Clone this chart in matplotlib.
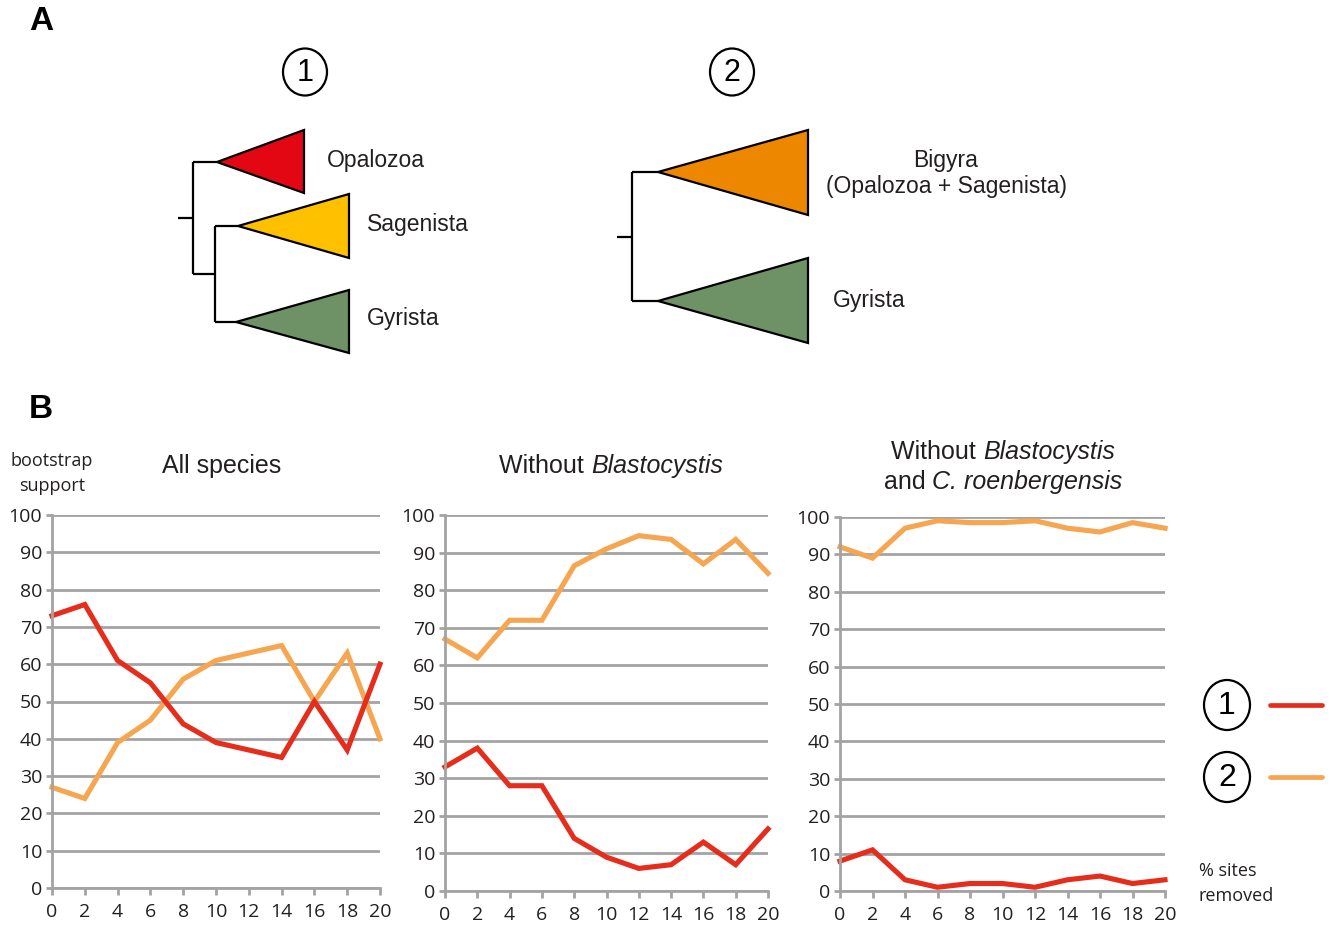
import matplotlib
matplotlib.use("Agg")
import matplotlib.pyplot as plt
from matplotlib.patches import Polygon, Ellipse
from matplotlib.lines import Line2D

# ---- data: bootstrap support vs. % sites removed ----
sites_removed = [0, 2, 4, 6, 8, 10, 12, 14, 16, 18, 20]

all_topo1 = [73, 76, 61, 55, 44, 39, 37, 35, 50, 37, 60]
all_topo2 = [27, 24, 39, 45, 56, 61, 63, 65, 50, 63, 40]

noblasto_topo1 = [33, 38, 28, 28, 14, 9, 6, 7, 13, 7, 16.5]
noblasto_topo2 = [67, 62, 72, 72, 86.5, 91, 94.5, 93.5, 87, 93.5, 84.5]

noblasto_croen_topo1 = [8, 11, 3, 1, 2, 2, 1, 3, 4, 2, 3]
noblasto_croen_topo2 = [92, 89, 97, 99, 98.5, 98.5, 99, 97, 96, 98.5, 97]

x_ticks = [0, 2, 4, 6, 8, 10, 12, 14, 16, 18, 20]
y_ticks = [0, 10, 20, 30, 40, 50, 60, 70, 80, 90, 100]

RED = '#E62D1C'
ORANGE = '#F6A650'
GRID = '#A3A3A3'
TXT = '#231F20'

W, H = 1336, 926
fig = plt.figure(figsize=(W / 100, H / 100), dpi=100)


def frac(x0, y_top, x1, y_bot):
    return [x0 / W, 1 - y_bot / H, (x1 - x0) / W, (y_bot - y_top) / H]


panels = [
    (frac(52, 515, 380, 888), all_topo1, all_topo2),
    (frac(445, 515, 768, 891), noblasto_topo1, noblasto_topo2),
    (frac(840, 517, 1165, 891), noblasto_croen_topo1, noblasto_croen_topo2),
]

for rect, s1, s2 in panels:
    ax = fig.add_axes(rect)
    ax.set_xlim(0, 20)
    ax.set_ylim(0, 100)
    ax.set_xticks(x_ticks)
    ax.set_yticks(y_ticks)
    ax.yaxis.grid(True, color=GRID, lw=2.0)
    ax.set_axisbelow(True)
    for s in ['top', 'right']:
        ax.spines[s].set_visible(False)
    for s in ['left', 'bottom']:
        ax.spines[s].set_color(GRID)
        ax.spines[s].set_linewidth(2.0)
    ax.tick_params(axis='x', direction='out', length=5, width=2, color=GRID,
                   labelsize=14, labelcolor=TXT, pad=6)
    ax.tick_params(axis='y', direction='out', length=4, width=2, color=GRID,
                   labelsize=14, labelcolor=TXT, pad=3)
    for lab in ax.get_xticklabels() + ax.get_yticklabels():
        lab.set_fontfamily('Open Sans')
    ax.plot(sites_removed, s2, color=ORANGE, lw=3.7, solid_joinstyle='miter', clip_on=False)
    ax.plot(sites_removed, s1, color=RED, lw=3.7, solid_joinstyle='miter', clip_on=False)

# ---- overlay in pixel coordinates for panel A, titles and key ----
ov = fig.add_axes([0, 0, 1, 1], zorder=5)
ov.set_xlim(0, W)
ov.set_ylim(H, 0)
ov.axis('off')
renderer = fig.canvas.get_renderer()

ov.text(41, 22, 'A', fontsize=24, fontweight='bold', family='Liberation Sans',
        ha='center', va='center', color='black')
ov.text(41, 409, 'B', fontsize=24, fontweight='bold', family='Liberation Sans',
        ha='center', va='center', color='black')


def circled(x, y, label, w=44, h=47, size=22):
    ov.add_patch(Ellipse((x, y), w, h, fill=False, ec='black', lw=1.6))
    ov.text(x, y + 1, label, fontsize=size, family='Liberation Sans',
            ha='center', va='center', color='black')


def seg(xs, ys):
    ov.add_line(Line2D(xs, ys, color='black', lw=1.6, solid_capstyle='butt'))


def clade(apex, base_x, y0, y1, color):
    ov.add_patch(Polygon([apex, (base_x, y0), (base_x, y1)], closed=True,
                         fc=color, ec='black', lw=1.6, joinstyle='miter'))


def rich_line(xc, y, parts, size=18):
    """Centered line built from (text, fontstyle) pieces."""
    arts = []
    for txt, style in parts:
        t = ov.text(0, y, txt, fontsize=size, family='Liberation Sans',
                    style=style, color=TXT, ha='left', va='baseline')
        arts.append(t)
    widths = [a.get_window_extent(renderer).width for a in arts]
    x = xc - sum(widths) / 2
    for a, w in zip(arts, widths):
        a.set_x(x)
        x += w


TREE_FONT = dict(fontsize=16.5, family='Liberation Sans', color=TXT, va='center')

# topology 1
circled(305, 72, '1')
seg([178, 193], [218, 218])
seg([193, 193], [162, 274])
seg([193, 217], [162, 162])
seg([193, 215], [274, 274])
seg([215, 215], [226, 322])
seg([215, 238], [226, 226])
seg([215, 236], [322, 322])
clade((217, 162), 304, 130, 193, '#E30613')
clade((238, 226), 349, 194, 258, '#FFC000')
clade((236, 322), 349, 290, 353, '#6E9165')
ov.text(327, 160, 'Opalozoa', ha='left', **TREE_FONT)
ov.text(367, 225, 'Sagenista', ha='left', **TREE_FONT)
ov.text(367, 319, 'Gyrista', ha='left', **TREE_FONT)

# topology 2
circled(732, 72, '2')
seg([617, 632], [237, 237])
seg([632, 632], [172, 301])
seg([632, 658], [172, 172])
seg([632, 658], [301, 301])
clade((658, 172), 808, 130, 215, '#EE8700')
clade((658, 301), 808, 258, 343, '#6E9165')
ov.text(946, 160, 'Bigyra', ha='center', **TREE_FONT)
ov.text(946, 187, '(Opalozoa + Sagenista)', ha='center', **TREE_FONT)
ov.text(833, 301, 'Gyrista', ha='left', **TREE_FONT)

# panel titles
rich_line(222, 473, [('All species', 'normal')])
rich_line(611, 473, [('Without\u00a0', 'normal'), ('Blastocystis', 'italic')])
rich_line(1003, 459, [('Without\u00a0', 'normal'), ('Blastocystis', 'italic')])
rich_line(1003, 489, [('and\u00a0', 'normal'), ('C. roenbergensis', 'italic')])

# axis captions
SMALL = dict(fontsize=13, family='Open Sans', color=TXT, va='center')
ov.text(52, 461, 'bootstrap', ha='center', **SMALL)
ov.text(52, 486, 'support', ha='center', **SMALL)
ov.text(1199, 871, '% sites', ha='left', **SMALL)
ov.text(1199, 896, 'removed', ha='left', **SMALL)

# key
circled(1227, 705, '1', w=46, h=50, size=23)
circled(1227, 777, '2', w=46, h=50, size=23)
ov.add_line(Line2D([1270, 1322], [705, 705], color=RED, lw=3.4, solid_capstyle='round'))
ov.add_line(Line2D([1270, 1322], [777, 777], color=ORANGE, lw=3.4, solid_capstyle='round'))

fig.savefig('out.png', dpi=100)
